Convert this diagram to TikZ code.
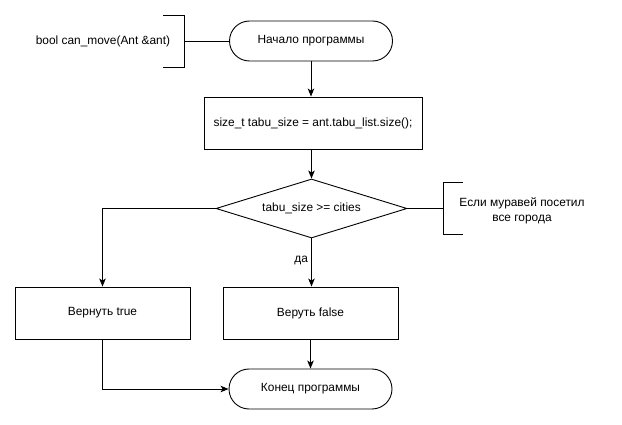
\documentclass[tikz,border=0pt]{standalone}
\usepackage{fontspec}
\setmainfont{Liberation Sans}
\usetikzlibrary{shapes.geometric,shapes.misc,arrows.meta}
\begin{document}
\begin{tikzpicture}[x=1pt,y=-1pt,
  every node/.style={font=\fontsize{11.9}{15}\selectfont},
  term/.style={draw,rounded rectangle,minimum width=163pt,minimum height=40pt,inner sep=0pt},
  proc/.style={draw,rectangle,minimum width=175pt,minimum height=52pt,inner sep=0pt},
  dec/.style={draw,diamond,aspect=3.24,minimum width=191pt,minimum height=59pt,inner sep=0pt},
  flow/.style={-{Stealth[length=8pt,width=6.5pt,inset=2pt]},line width=0.9pt},
  txt/.style={align=center,inner sep=0pt}
]
\useasboundingbox (0,0) rectangle (622,425);
\tikzset{every path/.style={line width=0.9pt}}

% main flow
\node[term] (start) at (311,41) {Начало программы};
\node[draw,rectangle,minimum width=218pt,minimum height=52pt,inner sep=0pt] (init) at (313,123) {size\_t tabu\_size = ant.tabu\_list.size();};
\node[dec] (cond) at (311.5,208.5) {tabu\_size >= cities};
\node[proc] (rtrue) at (102.5,313) {Вернуть true};
\node[proc] (rfalse) at (310.5,313) {Веруть false};
\node[term] (finish) at (310.5,389) {Конец программы};

% annotations
\node[txt] (sig) at (103,41) {bool can\_move(Ant \&ant)};
\coordinate (sigbr) at (184,41);
\draw (163,15) -- (184,15) -- (184,67) -- (163,67);
\draw (sigbr) -- (start.west);

\node[txt] (note) at (522,210.5) {Если муравей посетил\\все города};
\coordinate (notebr) at (443,208.5);
\draw (463,182) -- (443,182) -- (443,234) -- (463,234);
\draw (cond.east) -- (notebr);

% connectors
\draw[flow] (start.south) -- (start.south |- init.north);
\draw[flow] (init.south -| cond.north) -- (cond.north);
\draw[flow] (cond.west) -| (rtrue.north);
\draw[flow] (cond.south) -- node[pos=0.45,left=3pt,inner sep=0pt] {да} (cond.south |- rfalse.north);
\draw[flow] (rfalse.south) -- (finish.north);
\draw[flow] (rtrue.south) |- (finish.west);
\end{tikzpicture}
\end{document}
